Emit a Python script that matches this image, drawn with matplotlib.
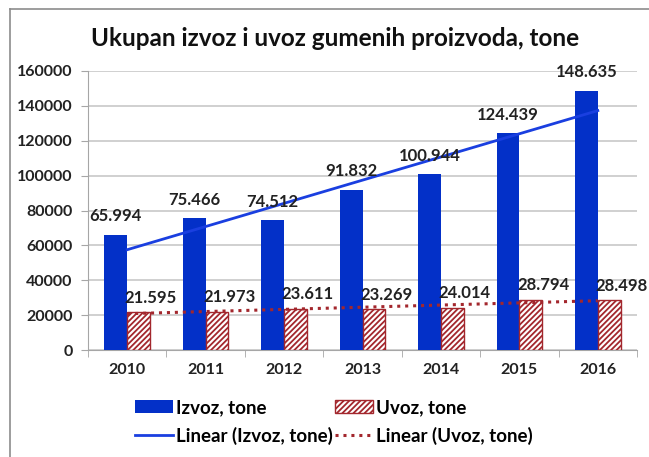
import numpy as np
import matplotlib.pyplot as plt
from matplotlib.lines import Line2D

plt.rcParams['font.family'] = ['Lato', 'DejaVu Sans']
plt.rcParams['hatch.linewidth'] = 1.3
plt.rcParams['hatch.color'] = '#A3272D'

years = ['2010', '2011', '2012', '2013', '2014', '2015', '2016']
izvoz = [65994, 75466, 74512, 91832, 100944, 124439, 148635]
uvoz = [21595, 21973, 23611, 23269, 24014, 28794, 28498]

blue = '#0330C8'
red = '#A3272D'


def fmt(v):
    return f"{v:,}".replace(',', '.')


fig = plt.figure(figsize=(6.49, 4.57), dpi=100)
ax = fig.add_axes([88 / 649, 1 - 350 / 457, (637 - 88) / 649, (350 - 71) / 457])

x = np.arange(len(years))
w = 0.29
b_iz = ax.bar(x - w / 2, izvoz, w, color=blue, label='Izvoz, tone', zorder=3)
b_uv = ax.bar(x + w / 2, uvoz, w, color='white', edgecolor=red, hatch='//////',
              linewidth=1.0, label='Uvoz, tone', zorder=3)

###### linear trendlines
m1, b1 = np.polyfit(x, izvoz, 1)
m2, b2 = np.polyfit(x, uvoz, 1)
l_iz, = ax.plot(x, m1 * x + b1, color='#1A3FE0', lw=2.0, label='Linear (Izvoz, tone)', zorder=4)
l_uv, = ax.plot(x, m2 * x + b2, color=red, lw=2.2, ls=(0, (1, 1.6)), label='Linear (Uvoz, tone)', zorder=4)

for i in range(len(years)):
    ax.text(x[i] - w / 2, izvoz[i] + 6000, fmt(izvoz[i]), ha='center', va='bottom',
            fontsize=12, fontweight='bold', color='#222222', zorder=5)
    ax.text(x[i] - 0.03, uvoz[i] + 3800, fmt(uvoz[i]), ha='left', va='bottom',
            fontsize=12, fontweight='bold', color='#222222', zorder=5)

ax.set_xlim(-0.5, len(years) - 0.5)
ax.set_ylim(0, 160000)
ax.set_yticks(np.arange(0, 160001, 20000))
ax.set_yticklabels([str(v) for v in range(0, 160001, 20000)])
ax.set_xticks(x)
ax.set_xticklabels(years)
ax.set_xticks(np.arange(-0.5, len(years)), minor=True)
ax.tick_params(axis='x', which='major', length=0, pad=9)
ax.tick_params(axis='x', which='minor', length=5, color='#A6A6A6')
ax.tick_params(axis='y', length=5, color='#A6A6A6', pad=6)
for lab in ax.get_xticklabels() + ax.get_yticklabels():
    lab.set_fontweight('bold')
    lab.set_fontsize(11.5)
    lab.set_color('#222222')

ax.grid(axis='y', color='#C8C8C8', lw=1.2, zorder=0)
for s in ['top', 'right']:
    ax.spines[s].set_visible(False)
ax.spines['left'].set_color('#A6A6A6')
ax.spines['bottom'].set_color('#A6A6A6')

fig.text(335 / 649, 1 - 38 / 457, 'Ukupan izvoz i uvoz gumenih proizvoda, tone',
         ha='center', va='center', fontsize=17.5, fontweight='bold', color='#111111')

# legend fills column by column: bars on top row, trendlines below
fig.legend([b_iz, l_iz, b_uv, l_uv],
           ['Izvoz, tone', 'Linear (Izvoz, tone)', 'Uvoz, tone', 'Linear (Uvoz, tone)'],
           ncol=2, loc='center', bbox_to_anchor=(334 / 649, 1 - 422 / 457),
           frameon=False, prop={'weight': 'bold', 'size': 13.5},
           handlelength=2.05, handletextpad=0.15, columnspacing=0.1,
           labelspacing=0.55)

# frame around chart
fig.add_artist(Line2D([10 / 649, 10 / 649], [0, 1 - 9 / 457], color='#8C8C8C', lw=1.2))
fig.add_artist(Line2D([10 / 649, 1], [1 - 9 / 457, 1 - 9 / 457], color='#8C8C8C', lw=1.2))

fig.savefig('out.png', dpi=100)
